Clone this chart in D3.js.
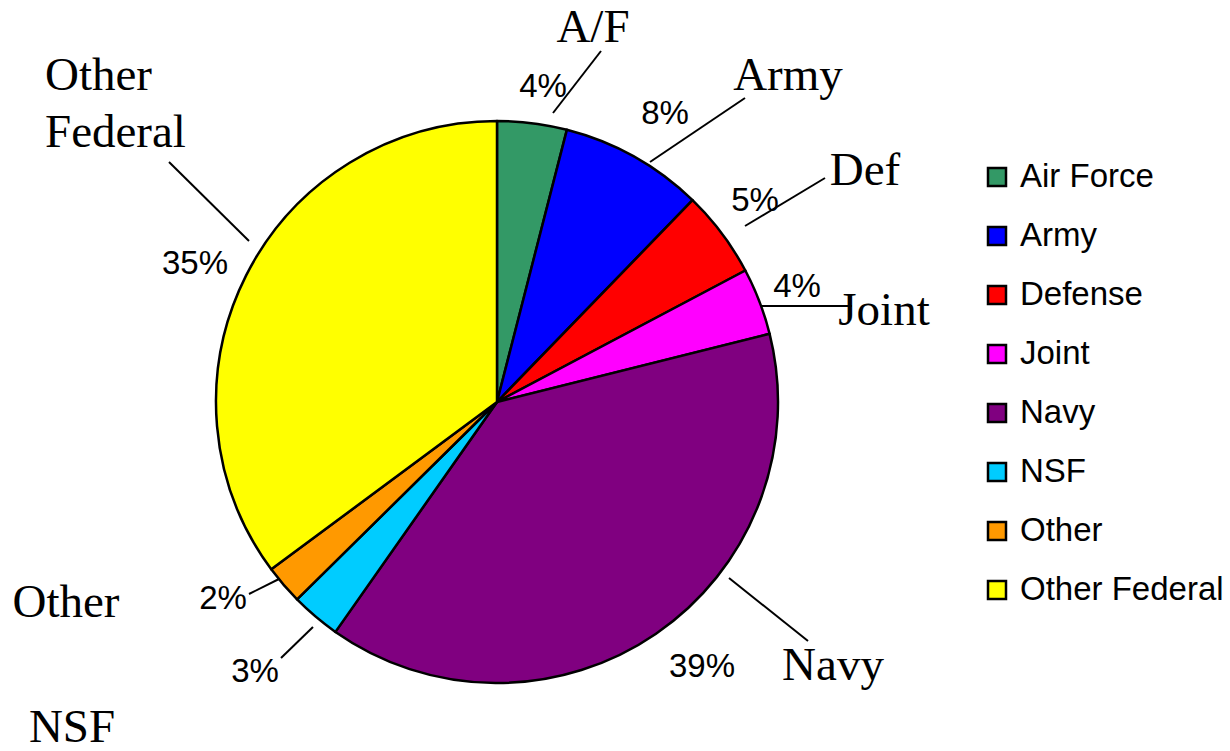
<!DOCTYPE html>
<html>
<head>
<meta charset="utf-8">
<script src="https://cdn.jsdelivr.net/npm/d3@7"></script>
<style>
  body { margin: 0; background: #fff; }
  svg { display: block; }
</style>
</head>
<body>
<div id="chart"></div>
<script>
// data (shares in %, clockwise from 12 o'clock)
var categories = ["Air Force", "Army", "Defense", "Joint", "Navy", "NSF", "Other", "Other Federal"];
var shortNames = ["A/F", "Army", "Def", "Joint", "Navy", "NSF", "Other", "Other Federal"];
var shares = [4.0, 8.25, 5.0, 3.85, 38.65, 2.85, 2.25, 35.15];
var colors = ["#339966", "#0000FF", "#FF0000", "#FF00FF", "#800080", "#00CCFF", "#FF9900", "#FFFF00"];

var width = 1230, height = 751;
var cx = 497, cy = 402, radius = 281;

// hand placed annotation layout, relative to pie centre
var layout = [
  { pct: [46, -317],  line: [[56, -289], [104, -351]],  name: [96, -360],  anchor: "middle" },
  { pct: [168, -290], line: [[153, -240], [248, -304]], name: [291, -312], anchor: "middle" },
  { pct: [258, -203], line: [[248, -176], [328, -224]], name: [368, -217], anchor: "middle" },
  { pct: [300, -117], line: [[265, -96], [355, -96]],   name: [387, -77],  anchor: "middle" },
  { pct: [205, 263],  line: [[232, 176], [311, 239]],   name: [336, 278],  anchor: "middle" },
  { pct: [-242, 268], line: [[-184, 225], [-216, 256]], name: [-425, 340], anchor: "middle" },
  { pct: [-274, 195], line: [[-218, 177], [-248, 192]], name: [-431, 215], anchor: "middle" },
  { pct: [-302, -140], line: [[-328, -240], [-248, -161]], name: [-452, -312], anchor: "start" }
];

var data = categories.map(function (c, i) {
  return { key: c, short: shortNames[i], value: shares[i], color: colors[i], lay: layout[i] };
});

var svg = d3.select("#chart")
  .append("svg")
  .attr("width", width)
  .attr("height", height);

var g = svg.append("g")
  .attr("transform", "translate(" + cx + "," + cy + ")");

var pie = d3.pie()
  .sort(null)
  .value(function (d) { return d.value; });

var arc = d3.arc()
  .innerRadius(0)
  .outerRadius(radius);

g.selectAll("path.slice")
  .data(pie(data))
  .enter()
  .append("path")
  .attr("class", "slice")
  .attr("d", arc)
  .attr("fill", function (d) { return d.data.color; })
  .attr("stroke", "#000")
  .attr("stroke-width", 2.5)
  .attr("stroke-linejoin", "round");

// leader lines
g.selectAll("line.leader")
  .data(data)
  .enter()
  .append("line")
  .attr("class", "leader")
  .attr("x1", function (d) { return d.lay.line[0][0]; })
  .attr("y1", function (d) { return d.lay.line[0][1]; })
  .attr("x2", function (d) { return d.lay.line[1][0]; })
  .attr("y2", function (d) { return d.lay.line[1][1]; })
  .attr("stroke", "#000")
  .attr("stroke-width", 2);

// percent labels
g.selectAll("text.pct")
  .data(data)
  .enter()
  .append("text")
  .attr("class", "pct")
  .attr("x", function (d) { return d.lay.pct[0]; })
  .attr("y", function (d) { return d.lay.pct[1]; })
  .attr("dy", "0.36em")
  .attr("text-anchor", "middle")
  .style("font-family", "'Liberation Sans', Arial, sans-serif")
  .style("font-size", "33px")
  .text(function (d) { return Math.round(d.value) + "%"; });

// category names (serif)
var names = g.selectAll("text.name")
  .data(data)
  .enter()
  .append("text")
  .attr("class", "name")
  .attr("x", function (d) { return d.lay.name[0]; })
  .attr("y", function (d) { return d.lay.name[1]; })
  .attr("text-anchor", function (d) { return d.lay.anchor; })
  .style("font-family", "'Liberation Serif', 'Times New Roman', serif")
  .style("font-size", "47px");

names.each(function (d) {
  var words = d.short === "Other Federal" ? ["Other", "Federal"] : [d.short];
  var t = d3.select(this);
  words.forEach(function (w, i) {
    t.append("tspan")
      .attr("x", d.lay.name[0])
      .attr("dy", i === 0 ? 0 : 57)
      .text(w);
  });
});

// legend
var legend = svg.append("g")
  .attr("transform", "translate(988,168)");

var rows = legend.selectAll("g.row")
  .data(data)
  .enter()
  .append("g")
  .attr("class", "row")
  .attr("transform", function (d, i) { return "translate(0," + (i * 59) + ")"; });

rows.append("rect")
  .attr("x", 0)
  .attr("y", 0)
  .attr("width", 18)
  .attr("height", 18)
  .attr("fill", function (d) { return d.color; })
  .attr("stroke", "#000")
  .attr("stroke-width", 2.5);

rows.append("text")
  .attr("x", 32)
  .attr("y", 7)
  .attr("dy", "0.36em")
  .style("font-family", "'Liberation Sans', Arial, sans-serif")
  .style("font-size", "33px")
  .text(function (d) { return d.key; });
</script>
</body>
</html>
